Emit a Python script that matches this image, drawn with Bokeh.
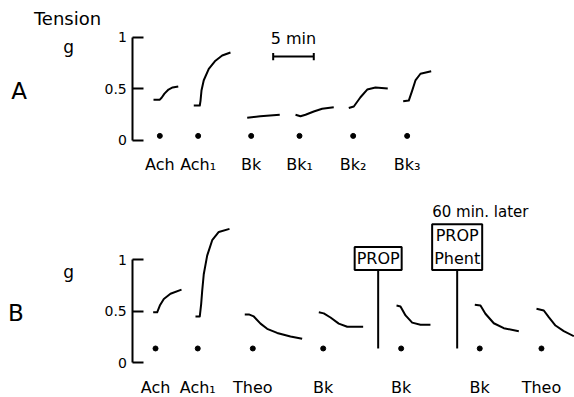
from bokeh.plotting import figure
from bokeh.models import FixedTicker, Label, Range1d
from bokeh.layouts import column
from bokeh.embed import file_html
from bokeh.resources import INLINE

FONT = "DejaVu Sans"

# ---------------- data (time in min, tension in g) ----------------
a_labels = ["Ach", "Ach₁", "Bk", "Bk₁", "Bk₂", "Bk₃"]
a_stim_t = [3.33, 8.05, 14.58, 20.53, 27.14, 33.79]
a_stim_g = 0.04
a_trace_t = [
    [2.55, 3.3, 3.55, 3.9, 4.4, 4.9, 5.6],
    [7.51, 8.25, 8.34, 8.46, 8.74, 9.36, 10.18, 11.01, 12.03],
    [14.09, 15.7, 18.10],
    [20.04, 20.65, 21.27, 22.29, 23.32, 24.75],
    [26.6, 27.22, 28.04, 28.87, 29.89, 31.4],
    [33.3, 33.99, 34.41, 34.81, 35.43, 36.75],
]
a_trace_g = [
    [0.39, 0.39, 0.41, 0.45, 0.49, 0.51, 0.52],
    [0.335, 0.335, 0.38, 0.48, 0.58, 0.69, 0.77, 0.82, 0.85],
    [0.215, 0.23, 0.245],
    [0.245, 0.23, 0.245, 0.277, 0.303, 0.318],
    [0.31, 0.325, 0.415, 0.49, 0.51, 0.50],
    [0.377, 0.383, 0.48, 0.578, 0.643, 0.668],
]

b_labels = ["Ach", "Ach₁", "Theo", "Bk", "Bk", "Bk", "Theo"]
b_stim_t = [2.80, 8.00, 14.78, 23.45, 33.05, 42.73, 50.33]
b_stim_g = 0.139
b_trace_t = [
    [2.51, 3.00, 3.33, 3.82, 4.64, 6.00],
    [7.72, 8.25, 8.42, 8.55, 8.74, 9.16, 9.78, 10.59, 11.91],
    [13.79, 14.29, 14.90, 15.73, 16.55, 17.78, 19.42, 20.86],
    [22.91, 23.52, 24.35, 25.37, 26.41, 28.37],
    [32.48, 32.97, 33.59, 34.41, 35.43, 36.66],
    [42.12, 42.82, 43.43, 44.46, 45.69, 47.54],
    [49.72, 50.62, 51.23, 52.06, 53.08, 54.32],
]
b_trace_g = [
    [0.49, 0.49, 0.556, 0.62, 0.67, 0.71],
    [0.45, 0.45, 0.57, 0.70, 0.86, 1.04, 1.19, 1.27, 1.30],
    [0.47, 0.47, 0.45, 0.38, 0.33, 0.29, 0.255, 0.233],
    [0.49, 0.48, 0.44, 0.38, 0.35, 0.35],
    [0.556, 0.547, 0.46, 0.39, 0.37, 0.37],
    [0.563, 0.556, 0.476, 0.384, 0.336, 0.307],
    [0.524, 0.508, 0.443, 0.362, 0.307, 0.258],
]

drug_t = [30.22, 39.95]
drug_text = ["PROP", "PROP\nPhent"]
drug_top_g = 0.90

scale_start_t = 17.29
scale_len_min = 5
scale_g = 0.81

y_ticks = [0, 0.5, 1]
y_tick_labels = {0: "0", 0.5: "0.5", 1: "1"}

# ---------------- layout ----------------
W = 574
xr = Range1d(-16.293, 54.40)


def make_fig(h, y0, y1, label_y, stim_t, labels):
    p = figure(width=W, height=h, x_range=xr, y_range=Range1d(y0, y1),
               output_backend="svg", toolbar_location=None,
               min_border_left=0, min_border_right=0, min_border_top=0,
               min_border_bottom=0)
    p.grid.visible = False
    p.outline_line_color = None
    p.background_fill_color = "white"
    ya = p.yaxis[0]
    ya.fixed_location = 0
    ya.bounds = (0, 1)
    ya.ticker = FixedTicker(ticks=y_ticks)
    ya.major_label_overrides = y_tick_labels
    ya.major_tick_in = 0
    ya.major_tick_out = -11
    ya.minor_tick_line_color = None
    ya.axis_line_width = 2
    ya.major_tick_line_width = 2
    ya.major_label_text_font = FONT
    ya.major_label_text_font_size = "14px"
    ya.major_label_text_color = "black"
    ya.major_label_standoff = 6
    xa = p.xaxis[0]
    xa.fixed_location = label_y
    xa.ticker = FixedTicker(ticks=stim_t)
    xa.major_label_overrides = {t: l for t, l in zip(stim_t, labels)}
    xa.axis_line_color = None
    xa.major_tick_line_color = None
    xa.minor_tick_line_color = None
    xa.major_label_text_font = FONT
    xa.major_label_text_font_size = "16px"
    xa.major_label_text_color = "black"
    xa.major_label_standoff = 0
    return p


def txt(p, x, y, s, size, align="center"):
    p.add_layout(Label(x=x, y=y, text=s, text_font=FONT, text_font_size=size,
                       text_align=align, text_baseline="alphabetic", text_color="black"))


# Panel A  (height 182)
pa = make_fig(182, -0.4126, 1.3544, -0.092, a_stim_t, a_labels)
pa.multi_line(a_trace_t, a_trace_g, line_color="black", line_width=2, line_join="round")
pa.scatter(a_stim_t, [a_stim_g] * len(a_stim_t), size=5, color="black")
sc_end = scale_start_t + scale_len_min
pa.segment(x0=[scale_start_t, scale_start_t, sc_end], y0=[scale_g, scale_g - 0.035, scale_g - 0.035],
           x1=[sc_end, scale_start_t, sc_end], y1=[scale_g, scale_g + 0.035, scale_g + 0.035],
           line_color="black", line_width=2)
txt(pa, (scale_start_t + sc_end) / 2, 0.986, "5 min", "16px")
txt(pa, -8.04, 1.175, "Tension", "18px")
txt(pa, -7.9, 0.90, "g", "17px")
txt(pa, -14.0, 0.475, "A", "23px")

# Panel B  (height 214)
pb = make_fig(214, -0.3272, 1.7505, -0.085, b_stim_t, b_labels)
pb.multi_line(b_trace_t, b_trace_g, line_color="black", line_width=2, line_join="round")
pb.scatter(b_stim_t, [b_stim_g] * len(b_stim_t), size=5, color="black")
pb.segment(x0=drug_t, y0=[b_stim_g] * len(drug_t), x1=drug_t, y1=[drug_top_g] * len(drug_t),
           line_color="black", line_width=2)
for t, s in zip(drug_t, drug_text):
    pb.add_layout(Label(x=t, y=drug_top_g, text=s, text_font=FONT, text_font_size="16px",
                        text_align="center", text_baseline="bottom", text_color="black",
                        border_line_color="black", border_line_width=2,
                        background_fill_color="white", padding=2))
txt(pb, 36.87, 1.468, "60 min. later", "15px", align="left")
txt(pb, -7.9, 0.878, "g", "17px")
txt(pb, -14.4, 0.483, "B", "23px")

layout = column(pa, pb, spacing=0)
open("out.html", "w").write(file_html(layout, INLINE))
